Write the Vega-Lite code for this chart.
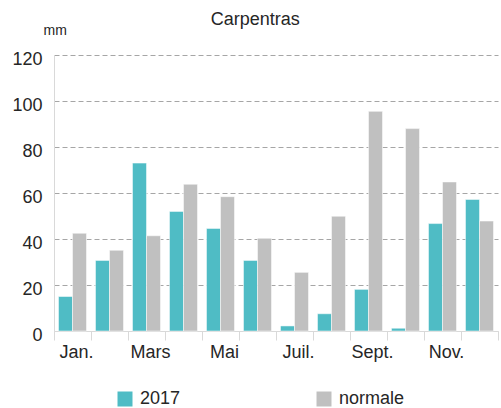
{
  "$schema": "https://vega.github.io/schema/vega-lite/v6.json",
  "autosize": {"type": "none"},
  "width": 444,
  "height": 276,
  "padding": {"left": 54, "top": 55, "right": 3, "bottom": 77},
  "background": "white",
  "title": {
    "text": "Carpentras",
    "fontSize": 18,
    "fontWeight": "normal",
    "font": "Liberation Sans",
    "color": "#262626",
    "anchor": "middle",
    "frame": "bounds",
    "baseline": "alphabetic",
    "offset": 6,
    "dy": 26
  },
  "data": {
    "values": [
      {"mois": "Jan.", "serie": "2017", "mm": 15},
      {"mois": "Jan.", "serie": "normale", "mm": 42.5},
      {"mois": "Févr.", "serie": "2017", "mm": 30.7},
      {"mois": "Févr.", "serie": "normale", "mm": 35.1},
      {"mois": "Mars", "serie": "2017", "mm": 73},
      {"mois": "Mars", "serie": "normale", "mm": 41.4},
      {"mois": "Avr.", "serie": "2017", "mm": 52},
      {"mois": "Avr.", "serie": "normale", "mm": 63.8},
      {"mois": "Mai", "serie": "2017", "mm": 44.6},
      {"mois": "Mai", "serie": "normale", "mm": 58.4},
      {"mois": "Juin", "serie": "2017", "mm": 30.7},
      {"mois": "Juin", "serie": "normale", "mm": 40.3},
      {"mois": "Juil.", "serie": "2017", "mm": 2.2},
      {"mois": "Juil.", "serie": "normale", "mm": 25.5},
      {"mois": "Août", "serie": "2017", "mm": 7.5},
      {"mois": "Août", "serie": "normale", "mm": 49.9},
      {"mois": "Sept.", "serie": "2017", "mm": 18.1},
      {"mois": "Sept.", "serie": "normale", "mm": 95.5},
      {"mois": "Oct.", "serie": "2017", "mm": 1.2},
      {"mois": "Oct.", "serie": "normale", "mm": 88},
      {"mois": "Nov.", "serie": "2017", "mm": 46.7},
      {"mois": "Nov.", "serie": "normale", "mm": 64.8},
      {"mois": "Déc.", "serie": "2017", "mm": 57.2},
      {"mois": "Déc.", "serie": "normale", "mm": 47.8}
    ]
  },
  "mark": {"type": "bar", "stroke": "white", "strokeWidth": 0.5},
  "encoding": {
    "x": {
      "field": "mois",
      "type": "nominal",
      "sort": null,
      "scale": {"paddingInner": 0, "paddingOuter": 0},
      "axis": {
        "title": null,
        "labelAngle": 0,
        "labelOverlap": false,
        "labelExpr": "indexof(['Jan.','Mars','Mai','Juil.','Sept.','Nov.'], datum.value) >= 0 ? datum.value : ''",
        "labelFontSize": 18,
        "labelFont": "Liberation Sans",
        "labelColor": "#262626",
        "labelPadding": 3,
        "labelOffset": 4,
        "bandPosition": 1,
        "tickExtra": true,
        "ticks": true,
        "tickSize": 9,
        "tickColor": "#D9D9D9",
        "domainColor": "#D9D9D9",
        "grid": false
      }
    },
    "xOffset": {
      "field": "serie",
      "type": "nominal",
      "scale": {"paddingInner": 0, "paddingOuter": 0.32}
    },
    "y": {
      "field": "mm",
      "type": "quantitative",
      "scale": {"domain": [0, 120], "nice": false},
      "axis": {
        "values": [0, 20, 40, 60, 80, 100, 120],
        "title": "mm",
        "titleAngle": 0,
        "titleAlign": "left",
        "titleBaseline": "alphabetic",
        "titleX": -11,
        "titleY": -21,
        "titleFontSize": 14,
        "titleFontWeight": "normal",
        "titleFont": "Liberation Sans",
        "titleColor": "#262626",
        "labelFontSize": 18,
        "labelFont": "Liberation Sans",
        "labelColor": "#262626",
        "labelPadding": 12,
        "labelOffset": 4,
        "ticks": false,
        "domainColor": "#D9D9D9",
        "grid": true,
        "gridColor": {"condition": {"test": "datum.value === 0", "value": "#D9D9D9"}, "value": "#A6A6A6"},
        "gridDash": {"condition": {"test": "datum.value === 0", "value": []}, "value": [5, 3]}
      }
    },
    "color": {
      "field": "serie",
      "type": "nominal",
      "scale": {"domain": ["2017", "normale"], "range": ["#4FBCC5", "#C0C0C0"]},
      "legend": {
        "title": null,
        "orient": "none",
        "direction": "horizontal",
        "legendX": 62,
        "legendY": 335,
        "columnPadding": 134,
        "symbolType": "square",
        "symbolSize": 225,
        "symbolStrokeWidth": 0,
        "symbolOpacity": 1,
        "labelFontSize": 18,
        "labelFont": "Liberation Sans",
        "labelColor": "#262626",
        "labelOffset": 6
      }
    }
  },
  "config": {
    "view": {"stroke": null},
    "axis": {"domainWidth": 1}
  }
}
